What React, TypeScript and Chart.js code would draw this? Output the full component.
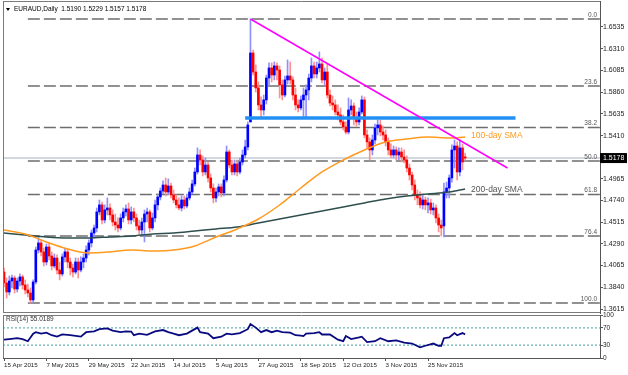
import React, { useEffect, useRef } from 'react';
import { Chart, registerables } from 'chart.js';

Chart.register(...registerables);

const FONT = "'Liberation Sans', Arial, sans-serif";

const symbolTitle = 'EURAUD,Daily  1.5190 1.5229 1.5157 1.5178';
const rsiTitle = 'RSI(14) 55.0189';

const dateLabels = ['15 Apr 2015', '7 May 2015', '29 May 2015', '22 Jun 2015', '14 Jul 2015', '5 Aug 2015', '27 Aug 2015', '18 Sep 2015', '12 Oct 2015', '3 Nov 2015', '25 Nov 2015'];
const dateTickBars = [0, 16, 32, 48, 64, 80, 96, 112, 128, 144, 160];
const priceTicks = [1.3615, 1.384, 1.4065, 1.429, 1.4515, 1.474, 1.4965, 1.541, 1.5635, 1.586, 1.6085, 1.631, 1.6535];
const rsiTicks = [0, 30, 70, 100];

const opens = [
  1.3998, 1.3885, 1.3791, 1.3905, 1.3936, 1.3822, 1.3905, 1.3947, 1.3864, 1.3812,
  1.3781, 1.3709, 1.3895, 1.4226, 1.4299, 1.4206, 1.4102, 1.4257, 1.4164, 1.4061,
  1.4143, 1.4019, 1.3978, 1.4154, 1.4206, 1.4102, 1.4040, 1.3998, 1.4102, 1.4019,
  1.4102, 1.4143, 1.4226, 1.4299, 1.4402, 1.4454, 1.4620, 1.4693, 1.4537, 1.4641,
  1.4661, 1.4589, 1.4516, 1.4485, 1.4454, 1.4558, 1.4620, 1.4651, 1.4537, 1.4620,
  1.4558, 1.4475, 1.4433, 1.4516, 1.4599, 1.4620, 1.4454, 1.4558, 1.4693, 1.4775,
  1.4837, 1.4899, 1.4827, 1.4889, 1.4796, 1.4744, 1.4693, 1.4661, 1.4744, 1.4682,
  1.4765, 1.4827, 1.4910, 1.5034, 1.5210, 1.5158, 1.5034, 1.5106, 1.4972, 1.4868,
  1.4765, 1.4827, 1.4879, 1.4817, 1.4951, 1.5241, 1.5106, 1.5034, 1.5117, 1.5034,
  1.5137, 1.5210, 1.5293, 1.5552, 1.6266, 1.6069, 1.5904, 1.5728, 1.5676, 1.5780,
  1.6007, 1.6111, 1.6038, 1.6132, 1.6090, 1.5935, 1.5831, 1.5987, 1.6028, 1.5987,
  1.5831, 1.5728, 1.5697, 1.5780, 1.5831, 1.5883, 1.6007, 1.6132, 1.6049, 1.6111,
  1.6152, 1.5987, 1.6069, 1.5831, 1.5748, 1.5728, 1.5655, 1.5624, 1.5552, 1.5500,
  1.5448, 1.5676, 1.5717, 1.5593, 1.5552, 1.5655, 1.5780, 1.5417, 1.5345, 1.5262,
  1.5365, 1.5490, 1.5521, 1.5448, 1.5417, 1.5345, 1.5262, 1.5210, 1.5262, 1.5210,
  1.5241, 1.5189, 1.5158, 1.5075, 1.5003, 1.4899, 1.4796, 1.4765, 1.4693, 1.4744,
  1.4693, 1.4713, 1.4641, 1.4661, 1.4558, 1.4485, 1.4475, 1.4827, 1.4868, 1.4972,
  1.5262, 1.5303, 1.5034, 1.5283, 1.5190,
];
const highs = [
  1.4040, 1.3936, 1.3957, 1.3967, 1.3957, 1.3936, 1.3978, 1.3967, 1.3916, 1.3874,
  1.3833, 1.3916, 1.4257, 1.4361, 1.4330, 1.4247, 1.4288, 1.4299, 1.4206, 1.4185,
  1.4175, 1.4102, 1.4185, 1.4247, 1.4237, 1.4143, 1.4081, 1.4143, 1.4143, 1.4154,
  1.4185, 1.4268, 1.4330, 1.4433, 1.4485, 1.4661, 1.4744, 1.4723, 1.4693, 1.4765,
  1.4703, 1.4641, 1.4599, 1.4558, 1.4599, 1.4661, 1.4693, 1.4713, 1.4672, 1.4661,
  1.4599, 1.4537, 1.4558, 1.4641, 1.4661, 1.4641, 1.4609, 1.4744, 1.4806, 1.4868,
  1.4941, 1.4972, 1.4962, 1.4920, 1.4848, 1.4796, 1.4765, 1.4786, 1.4786, 1.4806,
  1.4868, 1.4951, 1.5075, 1.5283, 1.5262, 1.5200, 1.5179, 1.5137, 1.5013, 1.4910,
  1.4868, 1.4910, 1.4910, 1.4993, 1.5303, 1.5262, 1.5158, 1.5158, 1.5158, 1.5179,
  1.5262, 1.5365, 1.5552, 1.6618, 1.6297, 1.6142, 1.5966, 1.5811, 1.5831, 1.6038,
  1.6163, 1.6163, 1.6173, 1.6163, 1.6132, 1.5987, 1.6028, 1.6194, 1.6173, 1.6018,
  1.5904, 1.5780, 1.5821, 1.5904, 1.5935, 1.6049, 1.6214, 1.6173, 1.6173, 1.6277,
  1.6214, 1.6111, 1.6152, 1.5883, 1.5821, 1.5780, 1.5728, 1.5697, 1.5624, 1.5552,
  1.5800, 1.5780, 1.5748, 1.5655, 1.5697, 1.5821, 1.5811, 1.5469, 1.5386, 1.5417,
  1.5531, 1.5572, 1.5572, 1.5510, 1.5469, 1.5386, 1.5324, 1.5303, 1.5293, 1.5283,
  1.5283, 1.5262, 1.5200, 1.5117, 1.5034, 1.4951, 1.4848, 1.4827, 1.4786, 1.4775,
  1.4765, 1.4754, 1.4713, 1.4693, 1.4599, 1.4537, 1.4920, 1.4929, 1.5003, 1.5314,
  1.5365, 1.5345, 1.5365, 1.5324, 1.5229,
];
const lows = [
  1.3843, 1.3729, 1.3760, 1.3833, 1.3781, 1.3791, 1.3853, 1.3822, 1.3771, 1.3740,
  1.3677, 1.3677, 1.3874, 1.4195, 1.4164, 1.4061, 1.4071, 1.4123, 1.4019, 1.4040,
  1.3978, 1.3916, 1.3957, 1.4102, 1.4040, 1.3967, 1.3947, 1.3978, 1.3936, 1.3998,
  1.4040, 1.4102, 1.4175, 1.4257, 1.4351, 1.4413, 1.4589, 1.4496, 1.4506, 1.4589,
  1.4537, 1.4475, 1.4433, 1.4413, 1.4433, 1.4516, 1.4578, 1.4496, 1.4496, 1.4516,
  1.4433, 1.4392, 1.4371, 1.4309, 1.4516, 1.4413, 1.4433, 1.4516, 1.4641, 1.4744,
  1.4806, 1.4786, 1.4796, 1.4765, 1.4713, 1.4661, 1.4641, 1.4630, 1.4651, 1.4661,
  1.4744, 1.4806, 1.4889, 1.5013, 1.5106, 1.4993, 1.5003, 1.4929, 1.4827, 1.4713,
  1.4723, 1.4786, 1.4775, 1.4786, 1.4929, 1.5075, 1.5003, 1.5003, 1.4993, 1.5013,
  1.5106, 1.5179, 1.5262, 1.5552, 1.6038, 1.5862, 1.5676, 1.5603, 1.5624, 1.5738,
  1.5935, 1.5966, 1.5987, 1.5987, 1.5800, 1.5780, 1.5811, 1.5945, 1.5945, 1.5780,
  1.5676, 1.5655, 1.5676, 1.5603, 1.5593, 1.5780, 1.5966, 1.6007, 1.6007, 1.6069,
  1.5956, 1.5935, 1.5800, 1.5717, 1.5676, 1.5624, 1.5572, 1.5521, 1.5469, 1.5427,
  1.5427, 1.5624, 1.5521, 1.5510, 1.5521, 1.5635, 1.5386, 1.5283, 1.5158, 1.5210,
  1.5324, 1.5417, 1.5407, 1.5365, 1.5303, 1.5210, 1.5179, 1.5179, 1.5158, 1.5158,
  1.5137, 1.5127, 1.5034, 1.4951, 1.4848, 1.4744, 1.4693, 1.4661, 1.4651, 1.4641,
  1.4609, 1.4599, 1.4589, 1.4506, 1.4413, 1.4371, 1.4361, 1.4765, 1.4765, 1.4929,
  1.5075, 1.4951, 1.4993, 1.5055, 1.5157,
];
const closes = [
  1.3885, 1.3791, 1.3905, 1.3936, 1.3822, 1.3905, 1.3947, 1.3864, 1.3812, 1.3781,
  1.3709, 1.3895, 1.4226, 1.4299, 1.4206, 1.4102, 1.4257, 1.4164, 1.4061, 1.4143,
  1.4019, 1.3978, 1.4154, 1.4206, 1.4102, 1.4040, 1.3998, 1.4102, 1.4019, 1.4102,
  1.4143, 1.4226, 1.4299, 1.4402, 1.4454, 1.4620, 1.4693, 1.4537, 1.4641, 1.4661,
  1.4589, 1.4516, 1.4485, 1.4454, 1.4558, 1.4620, 1.4651, 1.4537, 1.4620, 1.4558,
  1.4475, 1.4433, 1.4516, 1.4599, 1.4620, 1.4454, 1.4558, 1.4693, 1.4775, 1.4837,
  1.4899, 1.4827, 1.4889, 1.4796, 1.4744, 1.4693, 1.4661, 1.4744, 1.4682, 1.4765,
  1.4827, 1.4910, 1.5034, 1.5210, 1.5158, 1.5034, 1.5106, 1.4972, 1.4868, 1.4765,
  1.4827, 1.4879, 1.4817, 1.4951, 1.5241, 1.5106, 1.5034, 1.5117, 1.5034, 1.5137,
  1.5210, 1.5293, 1.5521, 1.6266, 1.6069, 1.5904, 1.5728, 1.5676, 1.5780, 1.6007,
  1.6111, 1.6038, 1.6132, 1.6090, 1.5935, 1.5831, 1.5987, 1.6028, 1.5987, 1.5831,
  1.5728, 1.5697, 1.5780, 1.5831, 1.5883, 1.6007, 1.6132, 1.6049, 1.6111, 1.6152,
  1.5987, 1.6069, 1.5831, 1.5748, 1.5728, 1.5655, 1.5624, 1.5552, 1.5500, 1.5448,
  1.5676, 1.5717, 1.5593, 1.5552, 1.5655, 1.5780, 1.5417, 1.5345, 1.5262, 1.5365,
  1.5490, 1.5521, 1.5448, 1.5417, 1.5345, 1.5262, 1.5210, 1.5262, 1.5210, 1.5241,
  1.5189, 1.5158, 1.5075, 1.5003, 1.4899, 1.4796, 1.4765, 1.4693, 1.4744, 1.4693,
  1.4713, 1.4641, 1.4661, 1.4558, 1.4485, 1.4454, 1.4827, 1.4868, 1.4972, 1.5262,
  1.5303, 1.5034, 1.5283, 1.5137, 1.5178,
];

const smaBars = [0, 8, 16, 24, 32, 40, 48, 56, 64, 72, 80, 88, 96, 104, 112, 120, 128, 136, 144, 152, 160, 168, 174];
const sma100 = [1.4433, 1.4392, 1.4309, 1.4237, 1.4195, 1.4206, 1.4226, 1.4216, 1.4226, 1.4268, 1.4361, 1.4444, 1.4547, 1.4692, 1.4868, 1.5034, 1.5158, 1.5262, 1.5345, 1.5376, 1.5396, 1.5386, 1.5396];
const sma200 = [1.4402, 1.4382, 1.4361, 1.4351, 1.4351, 1.4361, 1.4371, 1.4392, 1.4402, 1.4423, 1.4444, 1.4464, 1.4506, 1.4547, 1.4589, 1.4630, 1.4672, 1.4713, 1.4754, 1.4786, 1.4806, 1.4827, 1.4858];

const rsiBars = [0, 2, 5, 7, 9, 11, 12, 14, 16, 18, 20, 22, 25, 29, 31, 34, 36, 39, 41, 44, 46, 48, 49, 51, 54, 57, 60, 62, 64, 66, 69, 73, 74, 77, 79, 82, 84, 86, 89, 92, 93, 95, 97, 99, 101, 103, 105, 108, 110, 112, 113, 114, 117, 119, 120, 123, 126, 128, 129, 131, 134, 135, 137, 140, 142, 145, 148, 151, 154, 157, 159, 162, 164, 165, 166, 168, 169, 170, 171, 173, 174];
const rsiValues = [42.6, 44, 46, 44, 39, 56.7, 60, 56.7, 58.8, 53, 49.6, 55, 53, 49.6, 60, 62, 67, 69, 63.7, 60, 62, 61.6, 53, 56.7, 53.8, 62, 65, 60, 56.7, 53, 56.7, 70.7, 60, 56.7, 46, 49.6, 56.7, 55, 58, 67, 79, 70.7, 60, 65, 60, 63.7, 60, 58.8, 53, 52, 51, 56.7, 58, 60, 54.6, 54.6, 42.6, 39, 51, 44, 48, 49.6, 37, 39, 46, 39, 41, 35.6, 33.6, 25, 28.5, 33.6, 28.5, 28.5, 46, 48, 53, 58, 53, 58, 55.02];
const rsiLevels = [70, 30];

const fibHigh = 1.6618;
const fibLow = 1.3677;
const fibLevels = [0, 23.6, 38.2, 50, 61.8, 76.4, 100];
const fibStartBar = 9;
const supportPrice = 1.5593;
const supportBars = [91, 193];
const trendBars = [93, 190];
const trendPrices = [1.6618, 1.5075];
const lastPrice = 1.5178;

const X_MIN = -0.38;
const X_MAX = 224.9;
const PRICE_MIN = 1.35736;
const PRICE_MAX = 1.68042;

function fixWidth(w: number) {
  return (scale: any) => {
    scale.width = w;
    scale.paddingTop = 0;
    scale.paddingBottom = 0;
  };
}

export default function App() {
  const refA = useRef<HTMLCanvasElement>(null);
  const refB = useRef<HTMLCanvasElement>(null);

  useEffect(() => {
    document.body.style.margin = '0';
    Chart.defaults.font.family = FONT;
    const bars = closes.map((_, i) => i);
    const up = bars.map((i) => closes[i] >= opens[i]);
    const fibRange = fibHigh - fibLow;
    const fibPrice = (l: number) => fibHigh - (fibRange * l) / 100;

    const lineBase = { type: 'line', pointRadius: 0, fill: false, tension: 0 } as any;

    const datasetsA: any[] = [
      ...fibLevels.map((l) => ({
        ...lineBase,
        data: [{ x: fibStartBar, y: fibPrice(l) }, { x: X_MAX, y: fibPrice(l) }],
        borderColor: '#6e6e6e',
        borderWidth: 1.5,
        borderDash: [12, 4],
        order: 8,
      })),
      {
        ...lineBase,
        data: [{ x: X_MIN, y: lastPrice }, { x: X_MAX, y: lastPrice }],
        borderColor: '#c3cad6',
        borderWidth: 1.5,
        order: 7,
      },
      {
        type: 'bar',
        data: bars.map((i) => ({ x: i, y: [lows[i], highs[i]] })),
        backgroundColor: up.map((u) => (u ? '#8f8fff' : '#ff9090')),
        barThickness: 1,
        grouped: false,
        order: 5,
      },
      {
        type: 'bar',
        data: bars.map((i) => ({ x: i, y: [opens[i], closes[i]] })),
        backgroundColor: up.map((u) => (u ? '#0000ff' : '#ff0000')),
        barThickness: 2,
        minBarLength: 1,
        grouped: false,
        order: 4,
      },
      {
        ...lineBase,
        data: smaBars.map((b, k) => ({ x: b, y: sma200[k] })),
        borderColor: '#2f4f4f',
        borderWidth: 1.5,
        cubicInterpolationMode: 'monotone',
        order: 3,
      },
      {
        ...lineBase,
        data: smaBars.map((b, k) => ({ x: b, y: sma100[k] })),
        borderColor: '#ff9a1f',
        borderWidth: 1.5,
        cubicInterpolationMode: 'monotone',
        order: 2,
      },
      {
        ...lineBase,
        data: [{ x: supportBars[0], y: supportPrice }, { x: supportBars[1], y: supportPrice }],
        borderColor: '#2190f5',
        borderWidth: 3.5,
        order: 1,
      },
      {
        ...lineBase,
        data: [{ x: trendBars[0], y: trendPrices[0] }, { x: trendBars[1], y: trendPrices[1] }],
        borderColor: '#ff00ff',
        borderWidth: 1.5,
        order: 0,
      },
    ];

    const overlayA = {
      id: 'overlayA',
      afterDraw(chart: any) {
        const { ctx, chartArea: a, scales } = chart;
        const y = scales.y;
        const x = scales.x;
        ctx.save();
        ctx.strokeStyle = '#7a7a7a';
        ctx.lineWidth = 1;
        ctx.beginPath();
        ctx.moveTo(a.left + 0.5, a.top);
        ctx.lineTo(a.left + 0.5, a.bottom);
        ctx.moveTo(a.left, a.top + 0.5);
        ctx.lineTo(a.right, a.top + 0.5);
        ctx.moveTo(a.left, a.bottom - 0.5);
        ctx.lineTo(a.right, a.bottom - 0.5);
        ctx.stroke();

        ctx.font = `6.5px ${FONT}`;
        ctx.fillStyle = '#555555';
        ctx.textAlign = 'right';
        ctx.textBaseline = 'bottom';
        fibLevels.forEach((l) => {
          const py = y.getPixelForValue(fibPrice(l));
          ctx.fillText(l.toFixed(1), a.right - 3, py - 1);
        });

        const lastBar = closes.length - 1;
        const lx = x.getPixelForValue(lastBar) + 6;
        ctx.textAlign = 'left';
        ctx.textBaseline = 'middle';
        ctx.font = `8.5px ${FONT}`;
        ctx.fillStyle = '#ff9a1f';
        ctx.fillText('100-day SMA', lx, y.getPixelForValue(sma100[sma100.length - 1]) - 1);
        ctx.fillStyle = '#555555';
        ctx.fillText('200-day SMA', lx, y.getPixelForValue(sma200[sma200.length - 1]) + 1);

        ctx.fillStyle = '#000000';
        ctx.beginPath();
        ctx.moveTo(6, 8);
        ctx.lineTo(10, 8);
        ctx.lineTo(8, 11);
        ctx.closePath();
        ctx.fill();
        ctx.font = `6.5px ${FONT}`;
        ctx.fillText(symbolTitle, 14, 9.5);

        const py = y.getPixelForValue(lastPrice);
        ctx.fillStyle = '#000000';
        ctx.fillRect(a.right, py - 5, 27, 10);
        ctx.fillStyle = '#ffffff';
        ctx.font = `7px ${FONT}`;
        ctx.fillText(lastPrice.toFixed(4), a.right + 3, py + 0.5);
        ctx.restore();
      },
    };

    const chartA = new Chart(refA.current as HTMLCanvasElement, {
      type: 'bar',
      data: { datasets: datasetsA },
      options: {
        animation: false,
        responsive: false,
        events: [],
        layout: { padding: { left: 3, top: 1, right: 0, bottom: 1 } },
        plugins: { legend: { display: false }, tooltip: { enabled: false } },
        scales: {
          x: { type: 'linear', display: false, offset: false, min: X_MIN, max: X_MAX },
          y: {
            type: 'linear',
            position: 'right',
            min: PRICE_MIN,
            max: PRICE_MAX,
            afterBuildTicks: (s: any) => {
              s.ticks = priceTicks.map((v) => ({ value: v }));
            },
            afterFit: fixWidth(28),
            grid: { display: true, drawOnChartArea: false, drawTicks: true, tickLength: 3, color: '#555555' },
            border: { display: true, color: '#555555' },
            ticks: {
              font: { size: 7, family: FONT },
              color: '#222222',
              padding: 0,
              callback: (v: any) => Number(v).toFixed(4),
            },
          },
        },
      } as any,
      plugins: [overlayA],
    });

    const datasetsB: any[] = [
      ...rsiLevels.map((l) => ({
        ...lineBase,
        data: [{ x: X_MIN, y: l }, { x: X_MAX, y: l }],
        borderColor: '#3fa3a3',
        borderWidth: 1,
        borderDash: [2, 2],
        order: 2,
      })),
      {
        ...lineBase,
        data: rsiBars.map((b, k) => ({ x: b, y: rsiValues[k] })),
        borderColor: '#0a0a80',
        borderWidth: 1.8,
        order: 0,
      },
    ];

    const overlayB = {
      id: 'overlayB',
      afterDraw(chart: any) {
        const { ctx, chartArea: a } = chart;
        ctx.save();
        ctx.strokeStyle = '#7a7a7a';
        ctx.lineWidth = 1;
        ctx.beginPath();
        ctx.moveTo(a.left + 0.5, a.top);
        ctx.lineTo(a.left + 0.5, a.bottom);
        ctx.moveTo(a.left, a.top + 0.5);
        ctx.lineTo(a.right, a.top + 0.5);
        ctx.stroke();
        ctx.fillStyle = '#333333';
        ctx.font = `6.5px ${FONT}`;
        ctx.textAlign = 'left';
        ctx.textBaseline = 'middle';
        ctx.fillText(rsiTitle, 6, a.top + 4);
        ctx.restore();
      },
    };

    const chartB = new Chart(refB.current as HTMLCanvasElement, {
      type: 'line',
      data: { datasets: datasetsB },
      options: {
        animation: false,
        responsive: false,
        events: [],
        layout: { padding: { left: 3, top: 15, right: 0, bottom: 0 } },
        plugins: { legend: { display: false }, tooltip: { enabled: false } },
        scales: {
          x: {
            type: 'linear',
            offset: false,
            min: X_MIN,
            max: X_MAX,
            afterBuildTicks: (s: any) => {
              s.ticks = dateTickBars.map((v) => ({ value: v }));
            },
            afterFit: (s: any) => {
              s.height = 17;
              s.paddingLeft = 0;
              s.paddingRight = 0;
            },
            grid: { display: true, drawOnChartArea: false, drawTicks: true, tickLength: 3, color: '#555555' },
            border: { display: true, color: '#555555' },
            ticks: {
              font: { size: 6.2, family: FONT },
              color: '#222222',
              align: 'start',
              maxRotation: 0,
              autoSkip: false,
              padding: 1,
              callback: (v: any) => {
                const k = dateTickBars.indexOf(Number(v));
                return k >= 0 ? dateLabels[k] : '';
              },
            },
          },
          y: {
            type: 'linear',
            position: 'right',
            min: 0,
            max: 100,
            afterBuildTicks: (s: any) => {
              s.ticks = rsiTicks.map((v) => ({ value: v }));
            },
            afterFit: fixWidth(28),
            grid: { display: true, drawOnChartArea: false, drawTicks: true, tickLength: 3, color: '#555555' },
            border: { display: true, color: '#555555' },
            ticks: {
              font: { size: 6.5, family: FONT },
              color: '#222222',
              padding: 0,
              callback: (v: any) => String(v),
            },
          },
        },
      } as any,
      plugins: [overlayB],
    });

    return () => {
      chartA.destroy();
      chartB.destroy();
    };
  }, []);

  return (
    <div style={{ position: 'relative', width: 628, height: 375, background: '#ffffff', overflow: 'hidden' }}>
      <canvas ref={refA} width={628} height={314} style={{ position: 'absolute', left: 0, top: 0, display: 'block' }} />
      <canvas ref={refB} width={628} height={75} style={{ position: 'absolute', left: 0, top: 300, display: 'block' }} />
    </div>
  );
}
